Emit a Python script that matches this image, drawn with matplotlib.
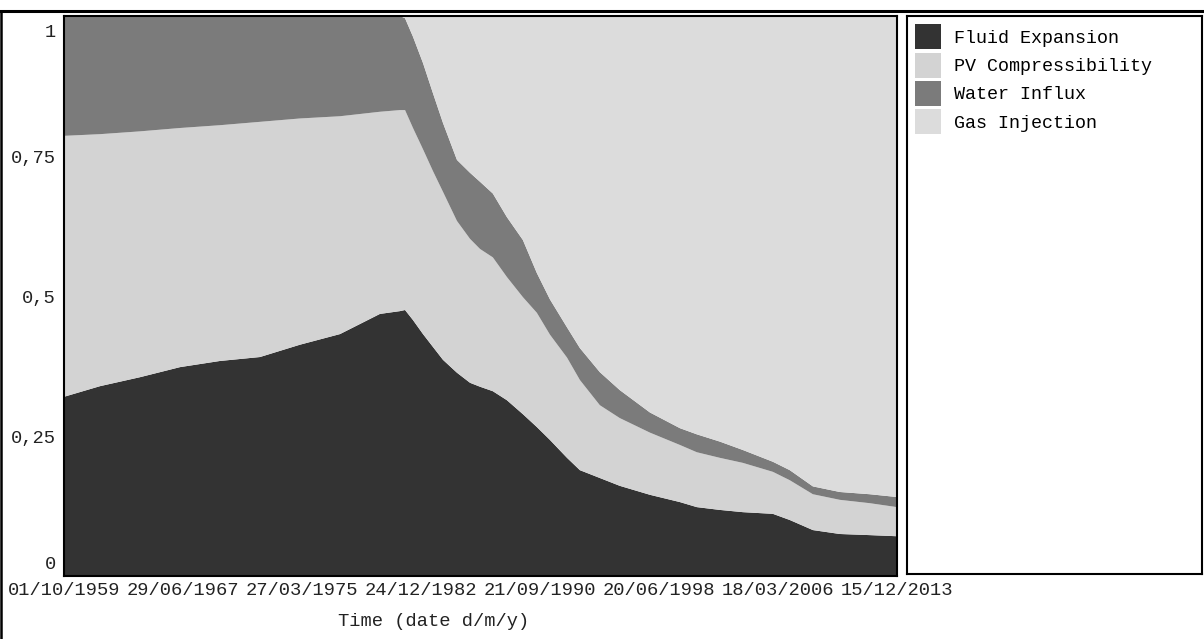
import matplotlib
matplotlib.use("Agg")
import matplotlib.pyplot as plt
import matplotlib.transforms as mtransforms
from matplotlib.lines import Line2D
import pandas as pd

# Drive mechanism fractions over time (stacked, sum = 1)
dates = ["1959-10-01", "1962-02-03", "1964-09-10", "1967-04-20", "1969-11-25",
         "1972-07-01", "1975-02-06", "1977-09-16", "1980-04-22", "1981-08-11",
         "1981-12-10", "1982-06-17", "1983-02-10", "1983-10-05", "1984-05-30",
         "1985-04-27", "1986-03-04", "1986-10-27", "1987-08-28", "1988-07-26",
         "1989-08-11", "1990-07-09", "1991-05-16", "1992-06-25", "1993-04-27",
         "1994-08-14", "1995-12-01", "1997-11-17", "1999-10-30", "2000-12-05",
         "2002-06-06", "2003-12-05", "2005-11-17", "2006-12-24", "2008-06-25",
         "2010-03-28", "2012-03-10", "2013-12-15"]

fluid_expansion = [.320, .339, .355, .373, .384, .391, .413, .432, .468, .473,
                   .475, .457, .432, .409, .386, .363, .345, .338, .330, .314,
                   .289, .266, .243, .211, .189, .175, .161, .145, .132, .123,
                   .118, .114, .111, .100, .082, .075, .073, .071]

pv_compressibility = [.466, .450, .439, .427, .421, .420, .404, .389, .361, .359,
                      .357, .343, .330, .314, .300, .271, .257, .246, .239, .220,
                      .209, .204, .188, .179, .161, .130, .121, .111, .102, .098,
                      .093, .088, .075, .071, .064, .061, .057, .052]

water_influx = [.214, .211, .205, .200, .195, .189, .184, .179, .171, .168,
                .164, .163, .154, .139, .123, .109, .118, .120, .114, .107,
                .102, .071, .063, .054, .057, .059, .050, .036, .030, .032,
                .029, .023, .018, .018, .014, .014, .016, .018]

gas_injection = [0, 0, 0, 0, 0, 0, 0, 0, 0, 0,
                 .004, .038, .084, .138, .191, .257, .280, .296, .316, .359,
                 .400, .459, .507, .557, .593, .636, .668, .709, .736, .746,
                 .761, .775, .796, .811, .839, .850, .854, .859]

series_names = ["Fluid Expansion", "PV Compressibility", "Water Influx", "Gas Injection"]
series_colors = ["#333333", "#d3d3d3", "#7b7b7b", "#dcdcdc"]

xtick_labels = ["01/10/1959", "29/06/1967", "27/03/1975", "24/12/1982",
                "21/09/1990", "20/06/1998", "18/03/2006", "15/12/2013"]
ytick_values = [0, 0.25, 0.5, 0.75, 1]
ytick_labels = ["0", "0,25", "0,5", "0,75", "1"]

FONT = "Liberation Mono"
W, H = 1204, 639

fig = plt.figure(figsize=(W / 100, H / 100), dpi=100)
fig.patch.set_facecolor("white")

# Main stacked area
ax = fig.add_axes([64 / W, 1 - 576 / H, 833 / W, 560 / H])
t = pd.to_datetime(dates)
polys = ax.stackplot(t, fluid_expansion, pv_compressibility, water_influx, gas_injection,
                     colors=series_colors, labels=series_names, linewidth=0)

tick_pos = pd.to_datetime(xtick_labels, format="%d/%m/%Y")
ax.set_xlim(tick_pos[0], tick_pos[-1])
ax.set_ylim(0, 1)
ax.set_xticks(tick_pos)
ax.set_xticklabels(xtick_labels, fontfamily=FONT, fontsize=13.5)
ax.set_yticks(ytick_values)
ax.set_yticklabels(ytick_labels, fontfamily=FONT, fontsize=13.5)
ax.tick_params(axis="both", length=0, colors="#222222")
ax.tick_params(axis="x", pad=4.5)
ax.tick_params(axis="y", pad=6)
for s in ax.spines.values():
    s.set_linewidth(1.5)
    s.set_color("black")

# keep the end labels of the value axis inside the plot frame
ylabels = ax.get_yticklabels()
ylabels[-1].set_verticalalignment("top")
ylabels[-1].set_transform(ylabels[-1].get_transform() +
                          mtransforms.ScaledTranslation(0, -6 / 72, fig.dpi_scale_trans))
ylabels[0].set_verticalalignment("bottom")
ylabels[0].set_transform(ylabels[0].get_transform() +
                         mtransforms.ScaledTranslation(0, 2 / 72, fig.dpi_scale_trans))

fig.text(434 / W, 1 - 622 / H, "Time (date d/m/y)", fontfamily=FONT, fontsize=13.5,
         ha="center", va="center", color="#222222")

# Legend panel
lax = fig.add_axes([907 / W, 1 - 574 / H, 295 / W, 558 / H])
lax.set_xticks([])
lax.set_yticks([])
for s in lax.spines.values():
    s.set_linewidth(1.5)
    s.set_color("black")
fs_leg = 13.2
lax.legend(polys, series_names, loc="upper left", frameon=False,
           prop={"family": FONT, "size": fs_leg},
           handlelength=1.42, handleheight=1.72, labelspacing=0.19,
           handletextpad=0.7, borderpad=0.44, borderaxespad=0)

# Outer frame lines
fig.add_artist(Line2D([0, 1], [1 - 11 / H, 1 - 11 / H], transform=fig.transFigure,
                      color="black", linewidth=2.2))
fig.add_artist(Line2D([1.2 / W, 1.2 / W], [0, 1 - 11 / H], transform=fig.transFigure,
                      color="black", linewidth=1.8))

fig.savefig("out.png", dpi=100)
